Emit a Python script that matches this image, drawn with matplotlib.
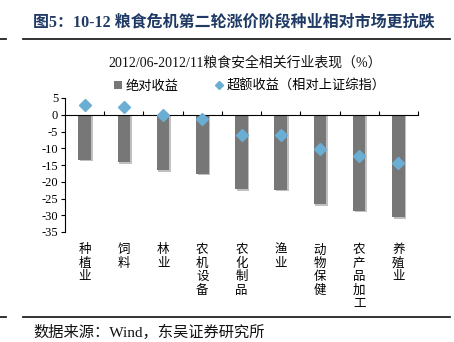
import matplotlib
matplotlib.use("Agg")
import matplotlib.pyplot as plt
import matplotlib.patheffects as pe
from matplotlib.lines import Line2D
from matplotlib.patches import Patch
import matplotlib.transforms as mtransforms

plt.rcParams['font.family'] = ['Liberation Serif', 'Noto Sans CJK SC', 'DejaVu Sans']

categories = ["种植业", "饲料", "林业", "农机设备", "农化制品", "渔业", "动物保健", "农产品加工", "养殖业"]
abs_return = [-13.4, -14.2, -16.6, -17.6, -22.3, -22.4, -26.7, -28.6, -30.6]
excess_return = [3.0, 2.2, -0.1, -1.4, -5.9, -6.1, -10.3, -12.2, -14.3]
yticks = [5, 0, -5, -10, -15, -20, -25, -30, -35]

W, H = 454, 342
fig = plt.figure(figsize=(W / 100, H / 100), dpi=100)
ax = fig.add_axes([65 / W, 1 - 232 / H, (418 - 65) / W, (232 - 98) / H])

x = list(range(len(categories)))
bars = ax.bar(x, abs_return, width=0.32, color='#777777', zorder=2)
for b in bars:
    b.set_path_effects([pe.SimplePatchShadow(offset=(1.2, -1.2), shadow_rgbFace='#c0c0c0', alpha=1.0), pe.Normal()])
ax.plot(x, excess_return, linestyle='none', marker='D', markersize=6.5, color='#6aaed3', zorder=3)

ax.set_xlim(-0.5, len(categories) - 0.5)
ax.set_ylim(-35, 5)
ax.set_yticks(yticks)
ax.set_yticklabels([str(v) for v in yticks], fontsize=9)
ax.tick_params(axis='y', direction='out', length=3, width=0.8, pad=2)
ax.set_xticks([i + 0.5 for i in range(len(categories))])
ax.set_xticklabels([])
ax.tick_params(axis='x', direction='in', length=3, width=0.8)
for s in ['top', 'right']:
    ax.spines[s].set_visible(False)
ax.spines['bottom'].set_position(('data', 0))
ax.spines['bottom'].set_linewidth(0.8)
ax.spines['left'].set_linewidth(0.8)
ax.set_facecolor('none')

trans = mtransforms.blended_transform_factory(ax.transData, ax.transAxes)
for i, c in enumerate(categories):
    ax.text(i, -0.085, "\n".join(c), transform=trans, ha='center', va='top',
            fontsize=9, linespacing=1.05, family=['Noto Sans CJK SC'])

# Title and decorations
fig.text(33 / W, 1 - 22 / H, "图5：10-12 粮食危机第二轮涨价阶段种业相对市场更抗跌",
         fontsize=11.5, fontweight='bold', color='#1f3a64', ha='left', va='center')
for yy in [39, 317]:
    fig.add_artist(Line2D([23 / W, 450 / W], [1 - yy / H] * 2, color='#222222', lw=1.3))
    fig.add_artist(Line2D([0, 6 / W], [1 - yy / H] * 2, color='#222222', lw=1.3))

fig.text(245 / W, 1 - 63 / H, "2012/06-2012/11粮食安全相关行业表现（%）", fontsize=10,
         ha='center', va='center', color='#111111')

handles = [Patch(facecolor='#777777', edgecolor='none'),
           Line2D([], [], linestyle='none', marker='D', markersize=4.5, color='#6aaed3')]
leg = fig.legend(handles, ["绝对收益", "超额收益（相对上证综指）"], loc='center',
                 bbox_to_anchor=(250 / W, 1 - 86 / H), ncol=2, frameon=False,
                 fontsize=9.5, handlelength=0.6, handleheight=0.6, handletextpad=0.3,
                 columnspacing=2.75)

fig.text(33 / W, 1 - 332 / H, "数据来源：Wind，东吴证券研究所", fontsize=11,
         ha='left', va='center', color='#111111')

fig.savefig("out.png", dpi=100)
